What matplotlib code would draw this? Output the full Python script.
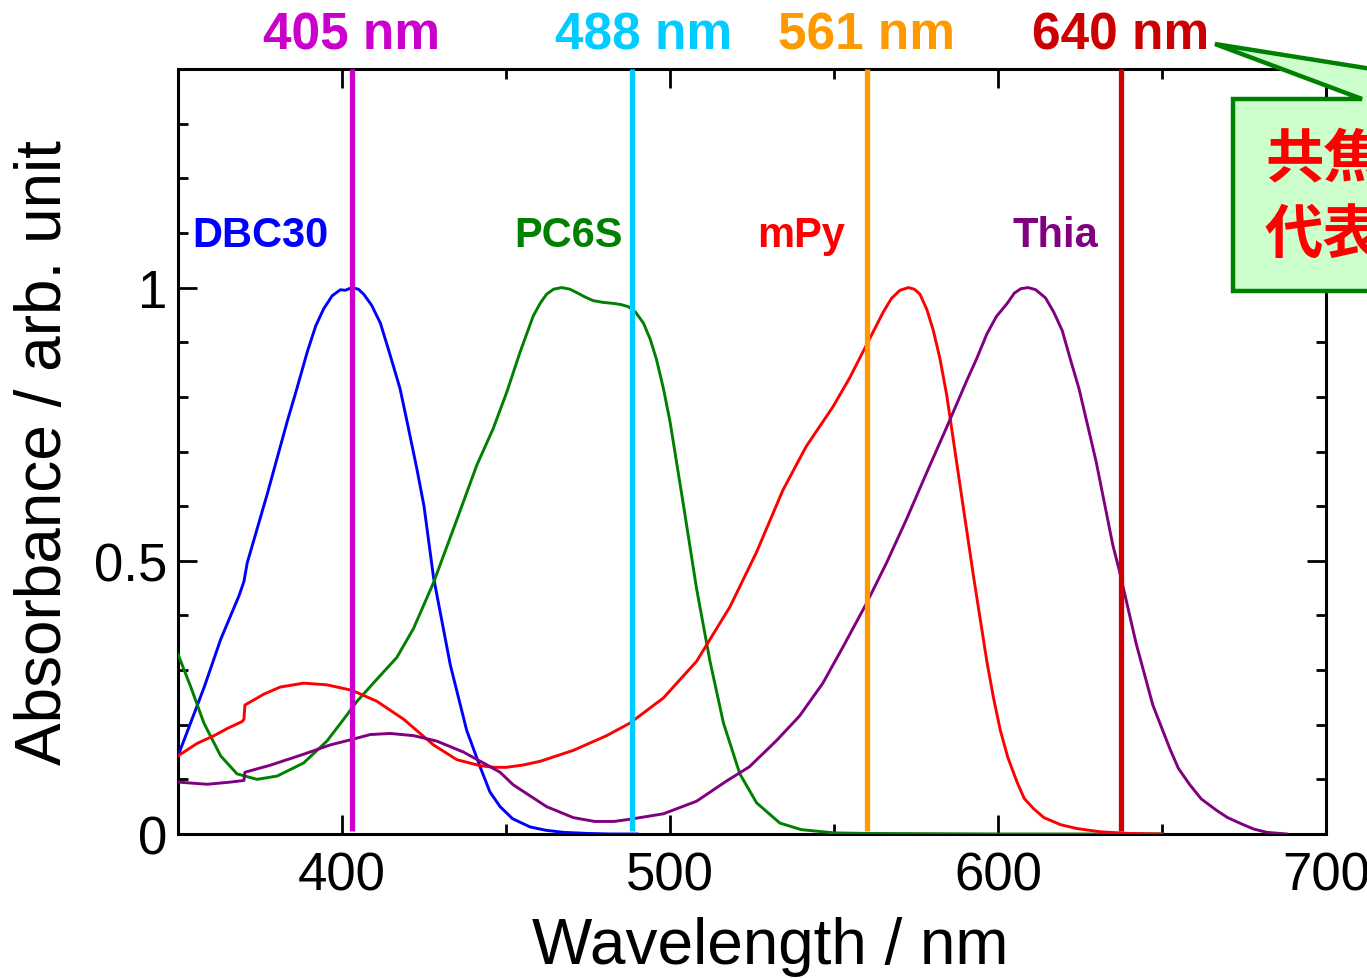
import matplotlib
matplotlib.use("Agg")
import matplotlib.pyplot as plt
from matplotlib.patches import Polygon
from matplotlib.ticker import MultipleLocator

plt.rcParams["font.family"] = ["Liberation Sans", "DejaVu Sans"]

# absorbance spectra (nm, normalised absorbance)
dbc30_wl = [350, 353, 358, 363, 368.6, 370.1, 371.1, 377.2, 383.3, 386, 389.4, 392, 394.4, 397,
            399.5, 401, 403, 405, 406.6, 409, 411.7, 414.5, 417.7, 420, 422.8, 425, 427.9, 433,
            438, 442.1, 445.1, 448.2, 452, 457.3, 462, 467.5, 475, 482, 490]
dbc30_abs = [0.143, 0.19, 0.269, 0.356, 0.436, 0.462, 0.496, 0.622, 0.755, 0.81, 0.882, 0.93,
             0.961, 0.985, 0.996, 0.995, 1.0, 0.997, 0.988, 0.968, 0.935, 0.88, 0.815, 0.75,
             0.669, 0.6, 0.47, 0.31, 0.19, 0.123, 0.077, 0.05, 0.028, 0.013, 0.007, 0.003,
             0.001, 0.0, 0.0]

pc6s_wl = [350, 353.9, 357.9, 363, 368, 374.1, 380.2, 388.3, 395.4, 400.5, 404.6, 410.6, 416.7,
           421.8, 427.9, 435, 441.1, 446.1, 450.2, 454.3, 458.3, 460.5, 462.4, 464.5, 467,
           469.5, 471.5, 474, 476.6, 479.5, 482.7, 485, 487.3, 489.5, 491.9, 494, 495.9, 498,
           500, 504.1, 508.1, 512.2, 516.3, 521.3, 526.4, 533.5, 540, 550, 560, 600, 650]
pc6s_abs = [0.329, 0.269, 0.203, 0.143, 0.110, 0.100, 0.106, 0.130, 0.170, 0.210, 0.243, 0.283,
            0.323, 0.376, 0.460, 0.575, 0.675, 0.742, 0.808, 0.882, 0.948, 0.972, 0.988, 0.997,
            1.0, 0.997, 0.991, 0.983, 0.976, 0.973, 0.971, 0.969, 0.965, 0.955, 0.935, 0.905,
            0.868, 0.815, 0.755, 0.602, 0.449, 0.316, 0.203, 0.110, 0.057, 0.020, 0.008, 0.002,
            0.001, 0.0, 0.0]

mpy_wl = [350, 355.9, 361, 365, 369.6, 370.1, 370.4, 376.2, 381.2, 388.3, 395.4, 403, 410.6,
          418.8, 427.9, 435, 442.1, 446.5, 450, 455, 460.4, 470.5, 480.7, 487.8, 498, 508.1,
          518.3, 526.4, 534.4, 541.5, 549.7, 554.8, 559.9, 565, 567.5, 570.1, 572.7, 574.5,
          576.2, 578.3, 580.3, 582.3, 584.4, 588.5, 592.6, 596.6, 598.6, 600.7, 603, 605.8,
          608, 610.9, 614, 619.1, 624, 631.3, 640, 650]
mpy_abs = [0.143, 0.166, 0.180, 0.193, 0.206, 0.210, 0.236, 0.256, 0.269, 0.276, 0.273, 0.263,
           0.243, 0.210, 0.163, 0.136, 0.125, 0.122, 0.122, 0.126, 0.133, 0.153, 0.180, 0.203,
           0.249, 0.316, 0.416, 0.516, 0.629, 0.709, 0.782, 0.835, 0.895, 0.955, 0.98, 0.995,
           1.0, 0.997, 0.988, 0.96, 0.921, 0.87, 0.802, 0.635, 0.469, 0.316, 0.25, 0.19, 0.14,
           0.095, 0.065, 0.046, 0.03, 0.017, 0.01, 0.004, 0.001, 0.0]

thia_wl = [350, 358.9, 366, 370.1, 370.4, 378.2, 388.3, 396.4, 403, 408.6, 414.7, 421.8, 428.9,
           437, 443.1, 448.2, 452.2, 462.4, 470.5, 477, 483, 487.8, 498, 508.1, 517, 524.2,
           532.3, 539.5, 546.6, 552.8, 559.9, 566, 572.1, 578.3, 584.4, 590.5, 593.5, 596.6,
           599.5, 602.8, 605, 607, 609.2, 611.5, 614.5, 617, 619.6, 622, 624.7, 629.9, 635, 637,
           642.1, 647.2, 652.4, 655, 658.5, 662, 666.7, 670, 674.8, 678, 682, 688]
thia_abs = [0.095, 0.091, 0.095, 0.098, 0.113, 0.126, 0.146, 0.163, 0.173, 0.182, 0.184, 0.180,
            0.170, 0.150, 0.130, 0.113, 0.090, 0.050, 0.030, 0.023, 0.023, 0.027, 0.037, 0.060,
            0.096, 0.123, 0.170, 0.216, 0.276, 0.343, 0.422, 0.496, 0.576, 0.662, 0.745, 0.830,
            0.87, 0.915, 0.947, 0.971, 0.99, 0.998, 1.0, 0.996, 0.981, 0.955, 0.921, 0.87, 0.815,
            0.682, 0.529, 0.482, 0.349, 0.236, 0.156, 0.12, 0.090, 0.064, 0.043, 0.03, 0.017,
            0.009, 0.003, 0.0]

series_names = ["DBC30", "PC6S", "mPy", "Thia"]
series_colors = ["#0000FF", "#008000", "#FF0000", "#800080"]
series_label_x = [375, 469, 540, 617.5]

laser_labels = ["405 nm", "488 nm", "561 nm", "640 nm"]
laser_x = [403, 488.5, 560, 637.5]
laser_label_x = [403, 492, 560, 637.5]
laser_colors = ["#CC00CC", "#00CCFF", "#FF9900", "#CC0000"]

W, H = 1367, 979
fig = plt.figure(figsize=(W / 100, H / 100), dpi=100)
ax = fig.add_axes([178 / W, 1 - 835 / H, 1148 / W, 765 / H])

spectra = [(dbc30_wl, dbc30_abs), (pc6s_wl, pc6s_abs), (mpy_wl, mpy_abs), (thia_wl, thia_abs)]
for (wl, ab), c in zip(spectra, series_colors):
    ax.plot(wl, ab, color=c, lw=2.1, zorder=3)

for x, c in zip(laser_x, laser_colors):
    ax.vlines(x, 0.005, 1.4, color=c, lw=3.8, zorder=4)

for x, lab, c in zip(laser_label_x, laser_labels, laser_colors):
    ax.text(x, 1.462, lab, color=c, fontsize=37, fontweight="bold",
            ha="center", va="center", clip_on=False)

for x, name, c in zip(series_label_x, series_names, series_colors):
    ax.text(x, 1.097, name, color=c, fontsize=30, fontweight="bold",
            ha="center", va="center")

ax.set_xlim(350, 700)
ax.set_ylim(0, 1.4)
ax.xaxis.set_major_locator(MultipleLocator(100))
ax.xaxis.set_minor_locator(MultipleLocator(50))
ax.set_yticks([0, 0.5, 1])
ax.set_yticklabels(["0", "0.5", "1"])
ax.yaxis.set_minor_locator(MultipleLocator(0.1))
ax.tick_params(which="both", direction="in", top=True, right=True, width=2)
ax.tick_params(which="major", length=14, labelsize=38)
ax.tick_params(which="minor", length=7)
ax.tick_params(axis="x", pad=12)
ax.tick_params(axis="y", pad=8)
for s in ax.spines.values():
    s.set_linewidth(2.2)

ax.set_xlabel("Wavelength / nm", fontsize=46)
ax.xaxis.set_label_coords(0.516, -0.107)
ax.set_ylabel("Absorbance / arb. unit", fontsize=46)
ax.yaxis.set_label_coords(-0.091, 0.5)


def fpt(x, y):
    return (x / W, 1 - y / H)


# callout box, cut off by the right edge as in the original
callout = [fpt(1233, 100), fpt(1362, 100), fpt(1215, 45), fpt(1560, 100),
           fpt(1620, 100), fpt(1620, 292), fpt(1233, 292)]
fig.add_artist(Polygon(callout, closed=True, transform=fig.transFigure,
                       facecolor="#CCFFCC", edgecolor="#008000", lw=3.2, zorder=5))
cjk = ["Noto Sans CJK JP", "DejaVu Sans"]
fig.text(1265 / W, 1 - 160 / H, "共焦", color="#FF0000", fontsize=42,
         fontweight="bold", family=cjk, ha="left", va="center", zorder=6)
fig.text(1265 / W, 1 - 236 / H, "代表", color="#FF0000", fontsize=42,
         fontweight="bold", family=cjk, ha="left", va="center", zorder=6)

fig.savefig("out.png", dpi=100)
